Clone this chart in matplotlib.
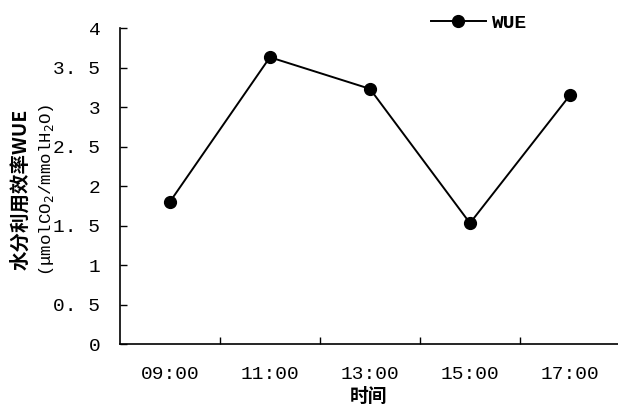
import matplotlib.pyplot as plt

times = ['09:00', '11:00', '13:00', '15:00', '17:00']
wue = [1.80, 3.63, 3.23, 1.53, 3.15]
yticks = [0, 0.5, 1, 1.5, 2, 2.5, 3, 3.5, 4]
ytick_labels = ['0', '0. 5', '1', '1. 5', '2', '2. 5', '3', '3. 5', '4']

cjk = ['Noto Sans CJK SC', 'DejaVu Sans']
num = ['Liberation Mono', 'DejaVu Sans Mono']

fig = plt.figure(figsize=(6.18, 4.12), dpi=100)
ax = fig.add_axes([0.194, 0.165, 0.806, 0.767])

x = list(range(len(times)))
ax.plot(x, wue, color='black', lw=1.4, marker='o', ms=8.5, label='WUE')

ax.set_xlim(-0.5, 4.48)
ax.set_ylim(0, 4)
ax.set_yticks(yticks)
ax.set_yticklabels(ytick_labels, family=num, fontsize=14)
ax.set_xticks(x)
ax.set_xticklabels(times, family=num, fontsize=14)
ax.set_xticks([i + 0.5 for i in x[:-1]], minor=True)
ax.tick_params(axis='x', which='major', length=0, pad=16)
ax.tick_params(axis='x', which='minor', direction='in', length=5, width=1)
ax.tick_params(axis='y', direction='in', length=5, width=1, pad=14)

for s in ['top', 'right']:
    ax.spines[s].set_visible(False)
for s in ['left', 'bottom']:
    ax.spines[s].set_linewidth(1.2)

ax.set_xlabel('时间', family=cjk, fontsize=13.5, fontweight='bold', labelpad=3)

fig.text(0.034, 0.54, '水分利用效率WUE', family=cjk, fontsize=14,
         rotation=90, ha='center', va='center', fontweight='bold')
fig.text(0.076, 0.54, '(μmolCO$_2$/mmolH$_2$O)', family=num, fontsize=12.5,
         rotation=90, ha='center', va='center')

ax.legend(loc='upper left', bbox_to_anchor=(0.59, 1.10), frameon=False,
          prop={'family': num, 'size': 14, 'weight': 'bold'},
          handlelength=2.8, handletextpad=0.3)

fig.savefig('out.png', dpi=100)
